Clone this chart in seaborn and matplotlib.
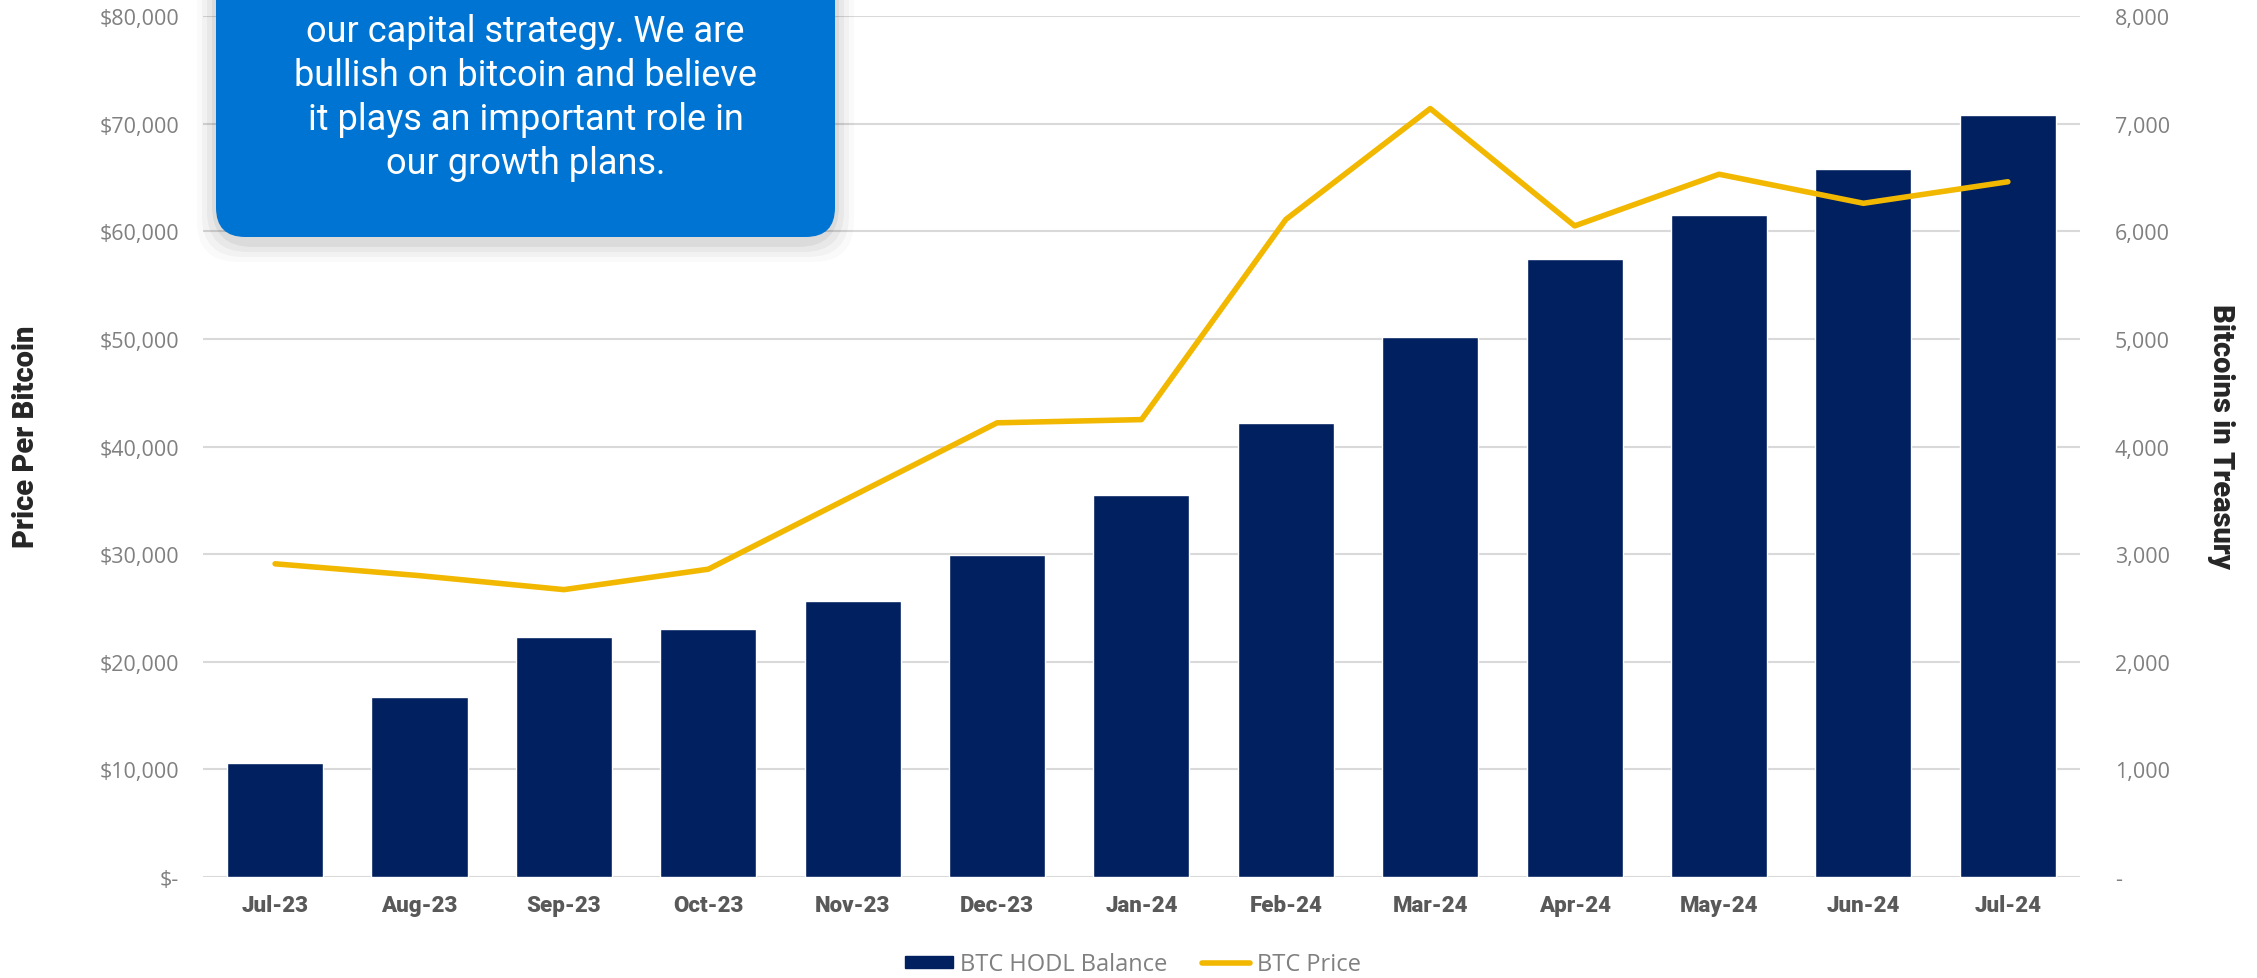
import numpy as np
import matplotlib
matplotlib.use('Agg')
import matplotlib.pyplot as plt
import matplotlib.ticker as mtick
from matplotlib.patches import FancyBboxPatch, Patch
from matplotlib.lines import Line2D
import seaborn as sns

months = ['Jul-23', 'Aug-23', 'Sep-23', 'Oct-23', 'Nov-23', 'Dec-23', 'Jan-24',
          'Feb-24', 'Mar-24', 'Apr-24', 'May-24', 'Jun-24', 'Jul-24']
hodl_balance = [1061, 1674, 2231, 2305, 2566, 2995, 3550,
                4216, 5016, 5741, 6151, 6579, 7081]
btc_price = [29100, 28000, 26700, 28600, 35400, 42200, 42500,
             61100, 71400, 60500, 65300, 62600, 64600]
left_ticks = [0, 10000, 20000, 30000, 40000, 50000, 60000, 70000, 80000]
right_ticks = [0, 1000, 2000, 3000, 4000, 5000, 6000, 7000, 8000]
quote_lines = ['our capital strategy. We are',
               'bullish on bitcoin and believe',
               'it plays an important role in',
               'our growth plans.']

navy = '#002060'
gold = '#F2B800'
grey_txt = '#808080'
dark_txt = '#595959'

sns.set_style('white')
plt.rcParams['font.family'] = ['Open Sans', 'DejaVu Sans']
narrow = ['Roboto', 'DejaVu Sans']

fig = plt.figure(figsize=(22.57, 9.79), dpi=100)
ax = fig.add_axes([0.0899, 0.1032, 0.9216 - 0.0899, 0.9826 - 0.1032])
ax2 = ax.twinx()

# bars on the base axes (right scale), line on the twin (left scale)
sns.barplot(x=months, y=hodl_balance, ax=ax, color=navy, saturation=1,
            width=0.665, zorder=2)
ax.set_ylim(0, 8000)
ax.set_xlim(-0.5, len(months) - 0.5)
ax.set_yticks(right_ticks)
ax.yaxis.set_major_formatter(mtick.FuncFormatter(
    lambda v, p: '-' if v == 0 else f'{v:,.0f}'))
ax.grid(axis='y', color='#d9d9d9', lw=1.5)
ax.set_axisbelow(True)
ax.set_xlabel('')

sns.lineplot(x=np.arange(len(months)), y=btc_price, ax=ax2, color=gold,
             lw=4, zorder=3)
ax2.set_ylim(0, 80000)
ax2.set_yticks(left_ticks)
ax2.yaxis.set_major_formatter(mtick.FuncFormatter(
    lambda v, p: '$-' if v == 0 else f'${v:,.0f}'))
ax2.grid(False)

# swap sides: counts on the right, price on the left
ax.yaxis.tick_right()
ax2.yaxis.tick_left()
ax.set_ylabel('')
ax2.set_ylabel('')

for a in (ax, ax2):
    for s in a.spines.values():
        s.set_visible(False)
    a.tick_params(axis='y', length=0, labelsize=15.5, labelcolor=grey_txt)
ax2.tick_params(axis='y', pad=17)
ax.tick_params(axis='y', pad=25)
ax.tick_params(axis='x', length=0, pad=12)
for lbl in ax.get_xticklabels():
    lbl.set_fontsize(16)
    lbl.set_fontweight('black')
    lbl.set_color(dark_txt)
    lbl.set_family(narrow)

ax.text(-0.0943, 0.513, 'Price Per Bitcoin', transform=ax.transAxes,
        rotation=90, ha='center', va='center', fontsize=21,
        fontweight='black', color='#262626', family=narrow)
ax.text(1.075, 0.513, 'Bitcoins in Treasury', transform=ax.transAxes,
        rotation=270, ha='center', va='center', fontsize=21,
        fontweight='black', color='#262626', family=narrow)

# legend
handles = [Patch(color=navy, label='BTC HODL Balance'),
           Line2D([], [], color=gold, lw=4, label='BTC Price')]
fig.legend(handles=handles, loc='center', bbox_to_anchor=(0.502, 0.014),
           ncol=2, frameon=False, fontsize=17, labelcolor=grey_txt,
           handlelength=2.0, handleheight=0.45, columnspacing=1.5,
           handletextpad=0.3)

# quote box with a soft shadow
W, H = 2257, 979
bx0, bx1, by0 = 216, 835, 238
for i, al in enumerate([0.05, 0.04, 0.03, 0.02]):
    grow = 4 + i * 5
    sh = FancyBboxPatch(((bx0 - grow) / W, 1 - (by0 + grow + 6) / H),
                        (bx1 - bx0 + 2 * grow) / W, (by0 + grow + 6 + 40) / H,
                        boxstyle='round,pad=0,rounding_size=0.018',
                        transform=fig.transFigure, fc='black', ec='none',
                        alpha=al, zorder=10, mutation_aspect=W / H)
    fig.patches.append(sh)
box = FancyBboxPatch((bx0 / W, 1 - by0 / H), (bx1 - bx0) / W, (by0 + 40) / H,
                     boxstyle='round,pad=0,rounding_size=0.013',
                     transform=fig.transFigure, fc='#0074D3', ec='none',
                     zorder=11, mutation_aspect=W / H)
fig.patches.append(box)
for i, line in enumerate(quote_lines):
    fig.text((bx0 + bx1) / 2 / W, 1 - (32 + 44 * i) / H, line, ha='center',
             va='center', color='white', fontsize=26, fontweight='normal',
             family=narrow, zorder=12)

fig.savefig('out.png', dpi=100)
